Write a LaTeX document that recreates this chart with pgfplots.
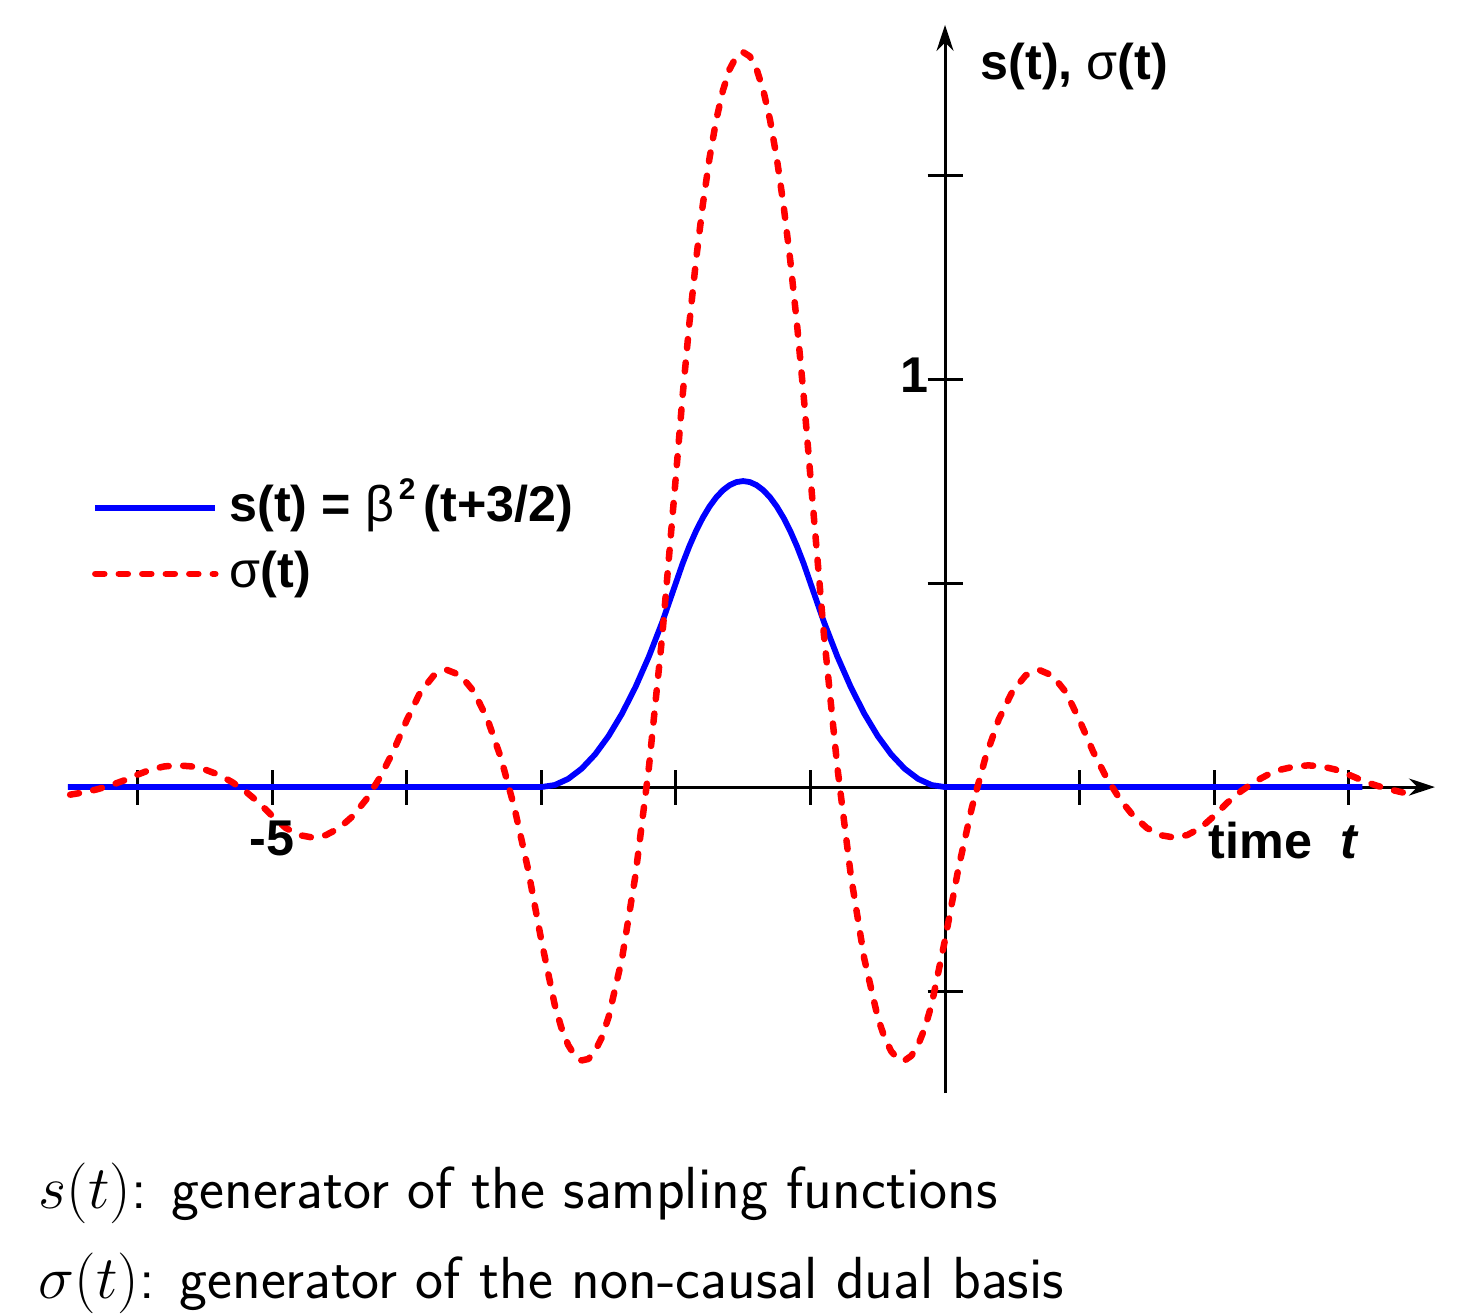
\documentclass[border=0pt]{standalone}
\usepackage{fontspec}
\usepackage{pgfplots}
\pgfplotsset{compat=1.18}
\usetikzlibrary{arrows.meta}
\newfontfamily\arial{Liberation Sans}
\definecolor{sblue}{RGB}{0,0,255}
\definecolor{sred}{RGB}{255,0,0}
\newcommand\lbl{\arial\bfseries\fontsize{14.3}{16}\selectfont}
\newcommand\sig{{\mdseries σ}}
\newcommand\capt{\sffamily\fontsize{16.9}{20}\selectfont}

\begin{document}
\begin{tikzpicture}
\begin{axis}[
  x=1.346cm, y=4.08cm,
  xmin=-6.516, xmax=3.64, ymin=-0.75, ymax=1.868,
  axis lines=middle,
  axis line style={line width=0.3mm},
  x axis line style={-{Stealth[length=2.6mm,width=1.7mm]}},
  y axis line style={-{Stealth[length=2.6mm,width=1.7mm]}},
  xtick={-6,-5,-4,-3,-2,-1,1,2,3},
  ytick={-0.5,0.5,1,1.5},
  xticklabels={}, yticklabels={},
  tick align=center,
  major tick length=3.5mm,
  tick style={line width=0.3mm, black},
  clip=false,
  legend image code/.code={\draw[#1] (0mm,0mm) -- (12mm,0mm);},
  legend style={draw=none, fill=none, inner sep=0pt, outer sep=0pt,
    at={(axis cs:-6.337,0.748)}, anchor=north west,
    font=\lbl, legend cell align=left, row sep=1.4mm, column sep=1.1mm,
    nodes={inner sep=0pt, text height=4mm, text depth=1.2mm}},
]
% s(t): quadratic B-spline shifted by 3/2
\addplot[sblue, line width=0.58mm, line join=round] coordinates {
(-6.516,0) (-3.0,0) (-2.9,0.005) (-2.8,0.02) (-2.7,0.045) (-2.6,0.08) (-2.5,0.125)
(-2.4,0.18) (-2.3,0.245) (-2.2,0.32) (-2.1,0.405) (-2.0,0.5) (-1.95,0.5475) (-1.9,0.59)
(-1.85,0.6275) (-1.8,0.66) (-1.75,0.6875) (-1.7,0.71) (-1.65,0.7275) (-1.6,0.74)
(-1.55,0.7475) (-1.5,0.75) (-1.45,0.7475) (-1.4,0.74) (-1.35,0.7275) (-1.3,0.71)
(-1.25,0.6875) (-1.2,0.66) (-1.15,0.6275) (-1.1,0.59) (-1.05,0.5475)
(-1.0,0.5) (-0.9,0.405) (-0.8,0.32) (-0.7,0.245) (-0.6,0.18) (-0.5,0.125) (-0.4,0.08)
(-0.3,0.045) (-0.2,0.02) (-0.1,0.005) (0,0) (3.1,0)};
\addlegendentry{s(t) = {\mdseries β}\raisebox{6.3pt}{\fontsize{8.5}{8.5}\selectfont\,2}\,(t+3/2)}
% sigma(t): dual generator
\addplot[sred, line width=0.65mm, line cap=round, line join=round, dash pattern=on 0.9mm off 1.45mm] coordinates {
(-6.5,-0.01859) (-6.4,-0.01317) (-6.3,-0.00557) (-6.2,0.00421) (-6.1,0.01616) (-6.0,0.03029)
(-5.9,0.04298) (-5.8,0.05061) (-5.7,0.05319) (-5.6,0.05071) (-5.5,0.04318) (-5.4,0.03059)
(-5.3,0.01294) (-5.2,-0.00976) (-5.1,-0.03752) (-5.0,-0.07033) (-4.9,-0.09981) (-4.8,-0.11754)
(-4.7,-0.12354) (-4.6,-0.11780) (-4.5,-0.10032) (-4.4,-0.07110) (-4.3,-0.03015) (-4.2,0.02254)
(-4.1,0.08698) (-4.0,0.16314) (-3.9,0.23160) (-3.8,0.27291) (-3.7,0.28706) (-3.6,0.27406)
(-3.5,0.23390) (-3.4,0.16659) (-3.3,0.07212) (-3.2,-0.04950) (-3.1,-0.19827) (-3.0,-0.37420)
(-2.9,-0.53341) (-2.85,-0.59030) (-2.8,-0.63204) (-2.75,-0.65862) (-2.7,-0.67007)
(-2.65,-0.66636) (-2.6,-0.64751) (-2.55,-0.61351) (-2.5,-0.56436) (-2.4,-0.42062)
(-2.3,-0.21630) (-2.2,0.04862) (-2.1,0.37413) (-2.0,0.76022) (-1.95,0.95801) (-1.9,1.13498)
(-1.85,1.29112) (-1.8,1.42645) (-1.75,1.54096) (-1.7,1.63465) (-1.65,1.70751) (-1.6,1.75956)
(-1.55,1.79079) (-1.5,1.80120) (-1.45,1.79079) (-1.4,1.75956) (-1.35,1.70751) (-1.3,1.63465)
(-1.25,1.54096) (-1.2,1.42645) (-1.15,1.29112) (-1.1,1.13498) (-1.05,0.95801)
(-1.0,0.76022) (-0.9,0.37413) (-0.8,0.04862) (-0.7,-0.21630) (-0.6,-0.42062)
(-0.5,-0.56436) (-0.45,-0.61351) (-0.4,-0.64751) (-0.35,-0.66636) (-0.3,-0.67007)
(-0.25,-0.65862) (-0.2,-0.63204) (-0.15,-0.59030) (-0.1,-0.53341) (0.0,-0.37420)
(0.1,-0.19827) (0.2,-0.04950) (0.3,0.07212) (0.4,0.16659) (0.5,0.23390) (0.6,0.27406)
(0.7,0.28706) (0.8,0.27291) (0.9,0.23160) (1.0,0.16314) (1.1,0.08698) (1.2,0.02254)
(1.3,-0.03015) (1.4,-0.07110) (1.5,-0.10032) (1.6,-0.11780) (1.7,-0.12354) (1.8,-0.11754)
(1.9,-0.09981) (2.0,-0.07033) (2.1,-0.03752) (2.2,-0.00976) (2.3,0.01294) (2.4,0.03059)
(2.5,0.04318) (2.6,0.05071) (2.7,0.05319) (2.8,0.05061) (2.9,0.04298) (3.0,0.03029)
(3.1,0.01616) (3.2,0.00421) (3.3,-0.00557) (3.4,-0.01317) (3.5,-0.01859)};
\addlegendentry{\sig(t)}

\node[anchor=base west, inner sep=0pt, font=\lbl] at (axis cs:0.26,1.735) {s(t), \sig(t)};
\node[anchor=base west, inner sep=0pt, font=\lbl] at (axis cs:1.954,-0.174) {time\ \ \itshape t};
\node[anchor=base, inner sep=0pt, font=\lbl] at (axis cs:-5,-0.1667) {-5};
\node[anchor=base east, inner sep=0pt, font=\lbl] at (axis cs:-0.12,0.968) {1};
\node[anchor=base west, inner sep=0pt, font=\capt] at (axis cs:-6.738,-1.032) {$s(t)$: generator of the sampling functions};
\node[anchor=base west, inner sep=0pt, font=\capt] at (axis cs:-6.738,-1.2525) {$\sigma(t)$: generator of the non-causal dual basis};

\coordinate (bl) at (axis cs:-7.021,-1.2917);
\coordinate (tr) at (axis cs:3.878,1.929);
\end{axis}
\pgfresetboundingbox
\path[use as bounding box] (bl) rectangle (tr);
\end{tikzpicture}
\end{document}
